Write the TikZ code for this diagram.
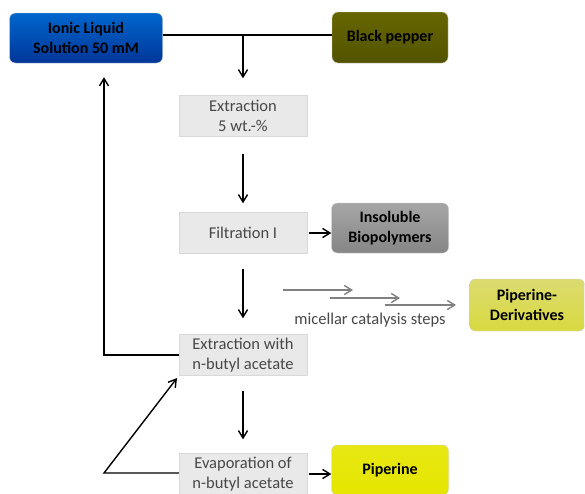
\documentclass[tikz,border=0pt]{standalone}
\usepackage{fontspec}
\setmainfont{Carlito}
\usetikzlibrary{arrows.meta}

\begin{document}
\begin{tikzpicture}[
  x=1pt, y=-1pt,
  stepbox/.style={fill=gray!17, draw=gray!30, minimum width=128pt, minimum height=41pt,
                align=center, text=black!72, inner sep=1pt, font=\fontsize{16.5}{20}\selectfont},
  feed/.style ={rounded corners=6pt, draw=black!20, align=center, inner sep=1pt,
                font=\bfseries\fontsize{16}{20}\selectfont, text=black},
  flow/.style ={-{Straight Barb[length=2.6mm,width=3.2mm]}, line width=1.4pt, black},
  link/.style ={line width=1.4pt, black},
  mflow/.style={-{Straight Barb[length=2.6mm,width=3.2mm]}, line width=1.4pt, black!50},
]
\useasboundingbox (0,0) rectangle (585,493);

% ============================ inputs ========================================
\node[feed, minimum width=153pt, minimum height=50pt, top color=blue!50!cyan!80!black,
      bottom color=blue!65!cyan!60!black] (il) at (86,38) {Ionic Liquid\\Solution 50 mM};
\node[feed, minimum width=116pt, minimum height=51pt, top color=olive!80!black,
      bottom color=olive!65!black] (pepper) at (390,37.5) {Black pepper};

% ============================ process steps =================================
\node[stepbox] (ext)  at (243,116) {Extraction\\5 wt.-\%};
\node[stepbox] (filt) at (243,233) {Filtration I};
\node[stepbox] (nba)  at (243,355) {Extraction with\\n-butyl acetate};
\node[stepbox] (evap) at (243,474) {Evaporation of\\n-butyl acetate};

% ============================ products ======================================
\node[feed, minimum width=117pt, minimum height=50pt, top color=gray!70,
      bottom color=gray!95] (bio) at (390,228) {Insoluble\\Biopolymers};
\node[feed, minimum width=115pt, minimum height=52pt, top color=yellow!60!gray!70,
      bottom color=yellow!80!black!75] (deriv) at (527,305) {Piperine-\\Derivatives};
\node[feed, minimum width=117pt, minimum height=50pt, top color=yellow!90!black!92,
      bottom color=yellow!90!black] (pip) at (390,470) {Piperine};

% ============================ main line =====================================
\coordinate (split) at (243,35);
\coordinate (back)  at (104,355);
\coordinate (loop)  at (104,473);
\draw[link] (il.east |- split) -- (pepper.west |- split);
\draw[flow, shorten >=17pt] (split) -- (ext.north);
\draw[flow, shorten <=17pt, shorten >=9pt] (ext.south) -- (filt.north);
\draw[flow, shorten <=15pt, shorten >=16pt] (filt.south) -- (nba.north);
\draw[flow, shorten <=15pt, shorten >=14pt] (nba.south) -- (evap.north);

\draw[flow, shorten <=2pt] (filt.east) -- (filt.east -| bio.west);
\draw[flow, shorten <=2pt] (evap.east) -- (evap.east -| pip.west);

% solvent recycling back to the ionic liquid
\draw[flow, shorten >=14pt] (nba.west) -- (back) -- (back |- il.south);
\draw[flow, shorten >=3pt] (evap.west |- loop) -- (loop) -- (nba.south west);

% micellar catalysis: three staggered grey arrows
\coordinate (m1) at (283,290);
\coordinate (m2) at (330,298);
\coordinate (m3) at (385,305);
\draw[mflow] (m1) -- ++(70,0);
\draw[mflow] (m2) -- ++(70,0);
\draw[mflow] (m3) -- ++(71,0);
\node[text=black!72, font=\fontsize{16.5}{20}\selectfont] (mcs) at (370,320) {micellar catalysis steps};

\end{tikzpicture}
\end{document}
